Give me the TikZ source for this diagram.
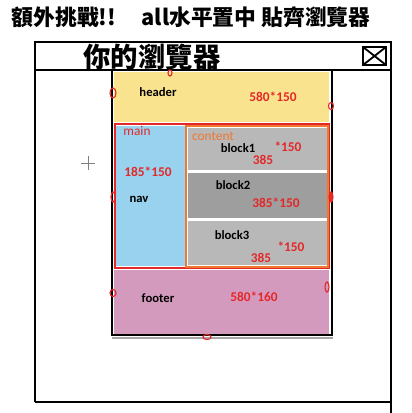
\documentclass[tikz,border=0pt]{standalone}
\usepackage{fontspec}
\setmainfont{Carlito}
\newfontfamily\cjk{Noto Sans CJK TC}
\usetikzlibrary{positioning}

\definecolor{hdrgelb}{RGB}{250,227,142}
\definecolor{navblau}{RGB}{152,210,238}
\definecolor{blockgrau}{RGB}{184,184,184}
\definecolor{blockdunkel}{RGB}{158,158,158}
\definecolor{footrosa}{RGB}{212,154,190}
\definecolor{markrot}{RGB}{228,40,40}
\definecolor{contorange}{RGB}{240,120,50}

\begin{document}
\begin{tikzpicture}[
    x=0.025cm,
    y=-0.025cm,
    fenster/.style={
        draw,
        line width=2pt
    },
    seite/.style={
        draw,
        line width=1pt
    },
    etikett/.style={
        inner sep=0pt,
        font=\bfseries\fontsize{9}{10}\selectfont
    },
    mass/.style={
        inner sep=0pt,
        text=markrot,
        font=\bfseries\fontsize{9.5}{10}\selectfont
    },
    bereich/.style={
        inner sep=0pt,
        font=\fontsize{9.5}{10}\selectfont
    },
    marke/.style={
        draw=markrot,
        line width=0.8pt
    }
]
\useasboundingbox (0,0) rectangle (412,413);

% title
\node[inner sep=0pt, font=\cjk\bfseries\fontsize{15.5}{16}\selectfont] (titel1) at (64,17) {額外挑戰!!};
\node[inner sep=0pt, font=\cjk\bfseries\fontsize{15.5}{16}\selectfont] (titel2) at (256,17) {all水平置中 貼齊瀏覽器};

% browser window
\draw[fenster] (35,402) -- (35,42) -- (391,42) -- (391,413);
\draw[fenster] (35,402) -- (391,402);
\draw[fenster] (35,70) -- (391,70);
\node[inner sep=0pt, font=\cjk\bfseries\fontsize{19.5}{20}\selectfont] (fenstertitel) at (152,57) {你的瀏覽器};
\draw[line width=1.6pt] (363,47) rectangle (386,65);
\draw[line width=1.3pt] (363,47) -- (386,65) (363,65) -- (386,47);

% page blocks
\fill[hdrgelb] (114,72) rectangle (329,122);
\draw[draw=markrot, line width=1.2pt, fill=white] (115,124) rectangle (329,268);
\fill[navblau] (116,126) rectangle (185,266);
\draw[draw=contorange, line width=1.2pt, fill=white] (186,126) rectangle (328,267);
\fill[blockgrau] (188,128) rectangle (327,170);
\fill[blockdunkel] (188,173) rectangle (327,218);
\fill[blockgrau] (188,221) rectangle (327,265);
\fill[footrosa] (114,270) rectangle (329,335);

\draw[seite] (112,70) -- (112,335) -- (332,335) -- (332,70);
\draw[gray!70, line width=1pt] (112,338) -- (333,338);

% labels
\node[etikett] (header) at (158,92) {header};
\node[mass] (hmass) at (273,97) {580*150};
\node[bereich, text=markrot] (main) at (137,131) {main};
\node[bereich, text=contorange] (content) at (213,136) {content};
\node[etikett] (block1) at (238,148) {block1};
\node[mass] (b1hoehe) at (288,147) {*150};
\node[mass] (b1breite) at (263,160) {385};
\node[mass] (navmass) at (148,172) {185*150};
\node[etikett] (nav) at (139,199) {nav};
\node[etikett] (block2) at (233,185) {block2};
\node[mass] (b2mass) at (276,203) {385*150};
\node[etikett] (block3) at (232,235) {block3};
\node[mass] (b3hoehe) at (291,247) {*150};
\node[mass] (b3breite) at (261,258) {385};
\node[etikett] (footer) at (158,298) {footer};
\node[mass] (fmass) at (254,297) {580*160};

% margin marks
\draw[marke] (170,73) ellipse (2 and 3);
\draw[marke] (113,93) ellipse (3 and 5);
\draw[marke] (331,106) ellipse (2.5 and 3.5);
\draw[marke] (113,197) ellipse (2 and 5);
\draw[marke, fill=markrot] (331,197) ellipse (2 and 5);
\draw[marke] (113,293) ellipse (3 and 3.5);
\draw[marke] (327,287) ellipse (2 and 5);
\draw[marke] (207,337) ellipse (4 and 2.5);

% cursor
\draw[gray, line width=0.6pt] (81,163) -- (95,163) (88,156) -- (88,170);
\end{tikzpicture}
\end{document}
